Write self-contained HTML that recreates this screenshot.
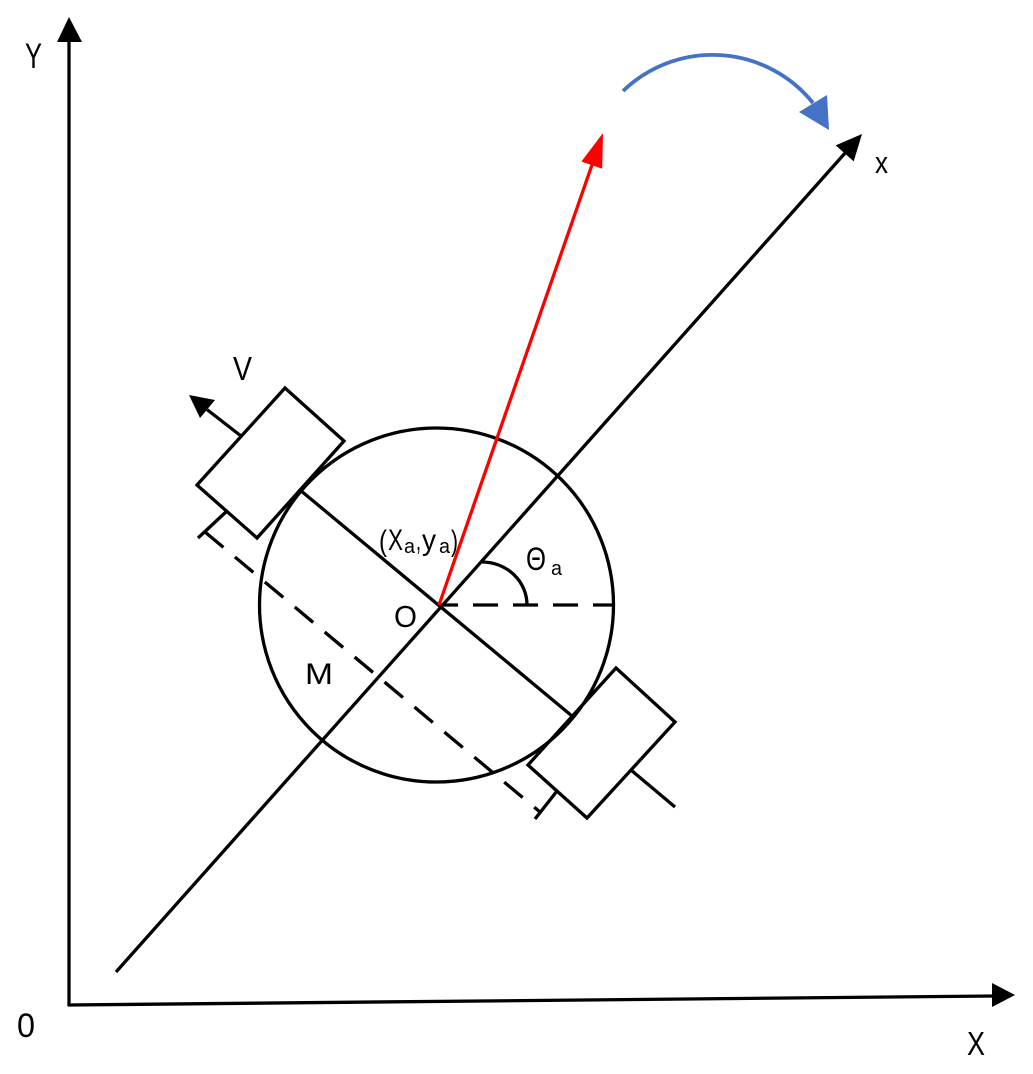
<!DOCTYPE html>
<html>
<head>
<meta charset="utf-8">
<style>
html,body{margin:0;padding:0;background:#fff;}
svg{display:block;}
text{font-family:"Liberation Sans",sans-serif;fill:#000;}
</style>
</head>
<body>
<svg width="1033" height="1074" viewBox="0 0 1033 1074" xmlns="http://www.w3.org/2000/svg">
  <rect width="1033" height="1074" fill="#fff"/>
  <g stroke="#000" stroke-width="3.3" fill="none" stroke-linecap="butt">
    <!-- Y axis -->
    <line x1="69" y1="1006" x2="69" y2="40"/>
    <!-- X axis -->
    <line x1="68" y1="1005" x2="994" y2="996"/>
    <!-- diagonal x axis -->
    <line x1="116" y1="972" x2="846" y2="152"/>
    <!-- circle -->
    <circle cx="436.5" cy="605" r="177"/>
    <!-- axle line through O -->
    <line x1="300" y1="490" x2="572" y2="716"/>
    <!-- upper wheel -->
    <polygon points="285,388 344,441 257,538 197,485"/>
    <!-- V arrow shaft -->
    <line x1="241" y1="436" x2="205" y2="408"/>
    <!-- upper stub -->
    <line x1="227" y1="511" x2="198" y2="538"/>
    <!-- lower wheel -->
    <polygon points="616,668 675,722 587,818 528,765"/>
    <!-- lower outer line -->
    <line x1="631" y1="770" x2="675" y2="807"/>
    <!-- lower stub -->
    <line x1="557" y1="791" x2="535" y2="819"/>
    <!-- M dashed line -->
    <line x1="205" y1="532" x2="540" y2="812" stroke-dasharray="24 15"/>
    <!-- horizontal dashed -->
    <line x1="438" y1="605" x2="612" y2="605" stroke-dasharray="25 15" stroke-dashoffset="5"/>
    <!-- angle arc -->
    <path d="M482,562 A45,43 0 0 1 527,605"/>
  </g>
  <!-- arrowheads black -->
  <polygon points="69,17 57,42 82,42" fill="#000"/>
  <polygon points="1015,995 992,983 992,1007" fill="#000"/>
  <polygon points="862,134 835.7,145.4 853.7,161.4" fill="#000"/>
  <polygon points="189,395 200,418 215,400" fill="#000"/>
  <!-- red arrow -->
  <line x1="439" y1="605" x2="593" y2="162" stroke="#ff0000" stroke-width="3.3"/>
  <polygon points="603,133 581.4,161.5 602.2,168.7" fill="#ff0000"/>
  <!-- blue arc -->
  <path d="M623,91 A129,129 0 0 1 813,103" stroke="#4472c4" stroke-width="3.8" fill="none"/>
  <polygon points="829,130 799,112 827,95" fill="#4472c4"/>

  <!-- labels -->
  <text x="25" y="68" font-size="35" textLength="17" lengthAdjust="spacingAndGlyphs">Y</text>
  <text x="17" y="1037" font-size="34" textLength="18" lengthAdjust="spacingAndGlyphs">0</text>
  <text x="967" y="1055" font-size="33" textLength="18" lengthAdjust="spacingAndGlyphs">X</text>
  <text x="875" y="173" font-size="31" textLength="13" lengthAdjust="spacingAndGlyphs">x</text>
  <text x="233" y="380" font-size="33" textLength="19" lengthAdjust="spacingAndGlyphs">V</text>
  <text x="394" y="627" font-size="31" textLength="23" lengthAdjust="spacingAndGlyphs">O</text>
  <text x="305" y="684" font-size="30" textLength="28" lengthAdjust="spacingAndGlyphs">M</text>
  <!-- (Xa,ya) -->
  <text x="379" y="551" font-size="30" textLength="8" lengthAdjust="spacingAndGlyphs">(</text>
  <text x="388" y="550" font-size="30" textLength="15" lengthAdjust="spacingAndGlyphs">X</text>
  <text x="404" y="553" font-size="20" textLength="11" lengthAdjust="spacingAndGlyphs">a</text>
  <text x="416" y="550" font-size="30" textLength="5" lengthAdjust="spacingAndGlyphs">,</text>
  <text x="422" y="550" font-size="30" textLength="14" lengthAdjust="spacingAndGlyphs">y</text>
  <text x="439" y="553" font-size="20" textLength="11" lengthAdjust="spacingAndGlyphs">a</text>
  <text x="451" y="551" font-size="30" textLength="7" lengthAdjust="spacingAndGlyphs">)</text>
  <!-- Theta a -->
  <text x="526" y="570" font-size="32" textLength="20" lengthAdjust="spacingAndGlyphs">Θ</text>
  <text x="551" y="575" font-size="20" textLength="11" lengthAdjust="spacingAndGlyphs">a</text>
</svg>
</body>
</html>
